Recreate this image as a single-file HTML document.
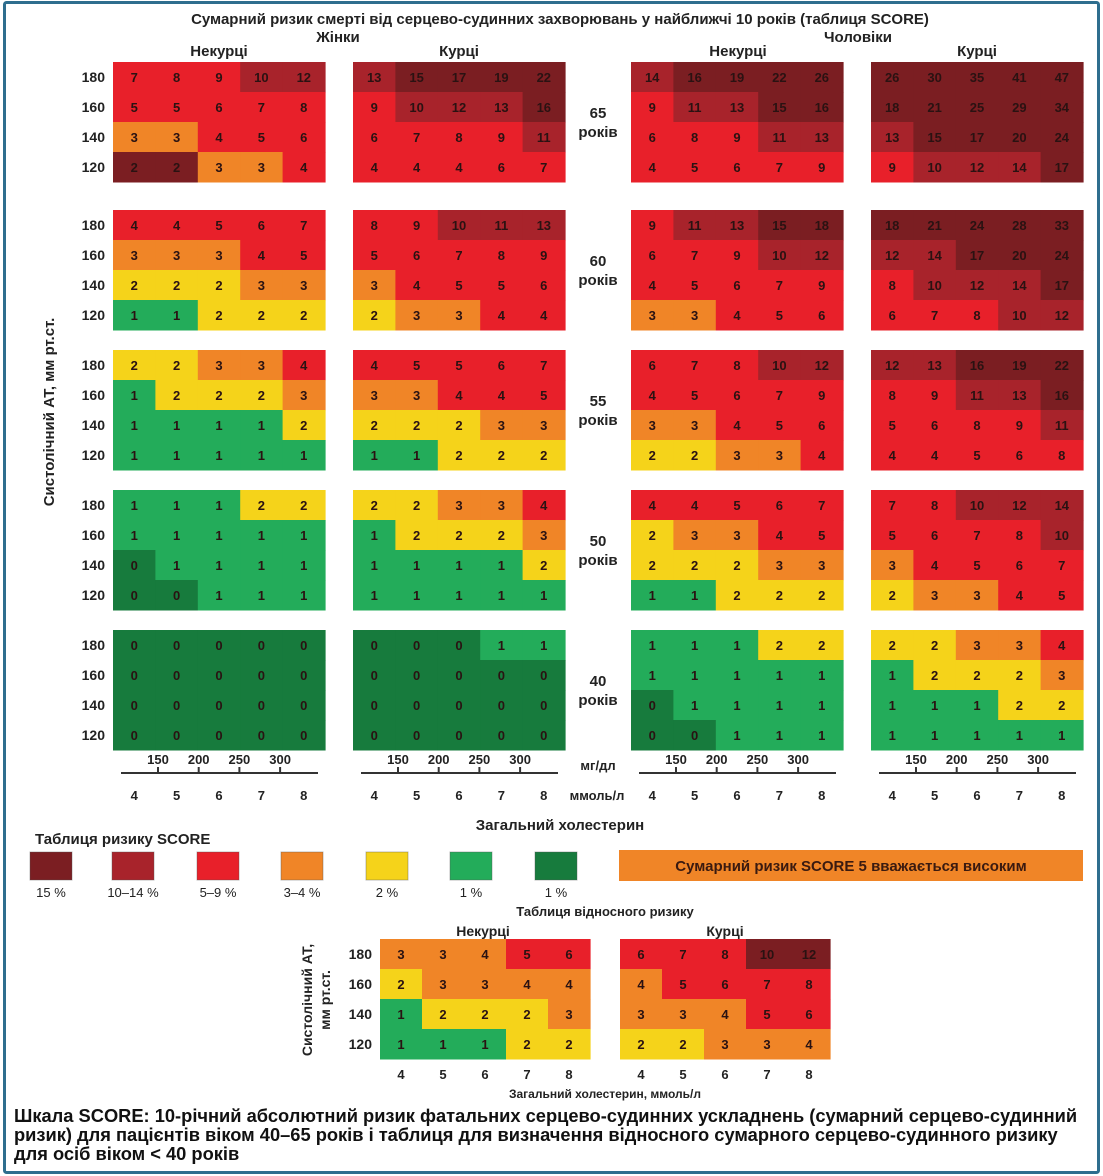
<!DOCTYPE html>
<html><head><meta charset="utf-8">
<style>
html,body{margin:0;padding:0;background:#fff;}
svg{display:block;font-family:"Liberation Sans",sans-serif;}
</style></head>
<body>
<svg id="chart" width="1103" height="1176" viewBox="0 0 1103 1176" xmlns="http://www.w3.org/2000/svg">
<rect x="4.5" y="2.5" width="1094" height="1170" fill="#fff" stroke="#2e6e8e" stroke-width="3" rx="2"/>
<g font-weight="bold" fill="#222">
<text x="560" y="24" text-anchor="middle" font-size="15">Сумарний ризик смерті від серцево-судинних захворювань у найближчі 10 років (таблиця SCORE)</text>
<text x="338" y="42" text-anchor="middle" font-size="15">Жінки</text>
<text x="858" y="42" text-anchor="middle" font-size="15">Чоловіки</text>
<text x="219" y="56" text-anchor="middle" font-size="15">Некурці</text>
<text x="459" y="56" text-anchor="middle" font-size="15">Курці</text>
<text x="738" y="56" text-anchor="middle" font-size="15">Некурці</text>
<text x="977" y="56" text-anchor="middle" font-size="15">Курці</text>
<text transform="translate(54,412) rotate(-90)" text-anchor="middle" font-size="15">Систолічний АТ, мм рт.ст.</text>
<text x="598" y="770" text-anchor="middle" font-size="13">мг/дл</text>
<text x="597" y="800" text-anchor="middle" font-size="13">ммоль/л</text>
<text x="560" y="830" text-anchor="middle" font-size="15">Загальний холестерин</text>
<text x="35" y="844" font-size="15">Таблиця ризику SCORE</text>
<rect x="619" y="850" width="464" height="31" fill="#f08527"/>
<text x="851" y="871" text-anchor="middle" font-size="15" fill="#3a1a10">Сумарний ризик SCORE 5 вважається високим</text>
<text x="605" y="916" text-anchor="middle" font-size="13">Таблиця відносного ризику</text>
<text x="483" y="936" text-anchor="middle" font-size="14">Некурці</text>
<text x="725" y="936" text-anchor="middle" font-size="14">Курці</text>
<text transform="translate(312,1000) rotate(-90)" text-anchor="middle" font-size="14">Систолічний АТ,</text>
<text transform="translate(330,1000) rotate(-90)" text-anchor="middle" font-size="14">мм рт.ст.</text>
<text x="605" y="1098" text-anchor="middle" font-size="12">Загальний холестерин, ммоль/л</text>
<text font-size="18.3" fill="#111">
<tspan x="14" y="1122">Шкала SCORE: 10-річний абсолютний ризик фатальних серцево-судинних ускладнень (сумарний серцево-судинний</tspan>
<tspan x="14" y="1141">ризик) для пацієнтів віком 40–65 років і таблиця для визначення відносного сумарного серцево-судинного ризику</tspan>
<tspan x="14" y="1160">для осіб віком &lt; 40 років</tspan>
</text>
</g>
<g id="cells"></g>
</svg>
<script>
const bpRows = ["180","160","140","120"];
const cholMmol = ["4","5","6","7","8"];
const cholMg = ["150","200","250","300"];
const ages = ["65","60","55","50","40"];
const groups = ["women-nonsmoker","women-smoker","men-nonsmoker","men-smoker"];
const legendLabels = ["15 %","10–14 %","5–9 %","3–4 %","2 %","1 %","1 %"];
const legendCodes = ["B","D","R","O","Y","G","K"];
const palette = {B:"#7b1e22",D:"#a8232b",R:"#e8202a",O:"#f08527",Y:"#f5d31a",G:"#23ac5a",K:"#177b3d"};

const wnValues = [
 [[7,8,9,10,12],[5,5,6,7,8],[3,3,4,5,6],[2,2,3,3,4]],
 [[4,4,5,6,7],[3,3,3,4,5],[2,2,2,3,3],[1,1,2,2,2]],
 [[2,2,3,3,4],[1,2,2,2,3],[1,1,1,1,2],[1,1,1,1,1]],
 [[1,1,1,2,2],[1,1,1,1,1],[0,1,1,1,1],[0,0,1,1,1]],
 [[0,0,0,0,0],[0,0,0,0,0],[0,0,0,0,0],[0,0,0,0,0]]];
const wnColors = [["RRRDD","RRRRR","OORRR","BBOOR"],["RRRRR","OOORR","YYYOO","GGYYY"],["YYOOR","GYYYO","GGGGY","GGGGG"],["GGGYY","GGGGG","KGGGG","KKGGG"],["KKKKK","KKKKK","KKKKK","KKKKK"]];
const wsValues = [
 [[13,15,17,19,22],[9,10,12,13,16],[6,7,8,9,11],[4,4,4,6,7]],
 [[8,9,10,11,13],[5,6,7,8,9],[3,4,5,5,6],[2,3,3,4,4]],
 [[4,5,5,6,7],[3,3,4,4,5],[2,2,2,3,3],[1,1,2,2,2]],
 [[2,2,3,3,4],[1,2,2,2,3],[1,1,1,1,2],[1,1,1,1,1]],
 [[0,0,0,1,1],[0,0,0,0,0],[0,0,0,0,0],[0,0,0,0,0]]];
const wsColors = [["DBBBB","RDDDB","RRRRD","RRRRR"],["RRDDD","RRRRR","ORRRR","YOORR"],["RRRRR","OORRR","YYYOO","GGYYY"],["YYOOR","GYYYO","GGGGY","GGGGG"],["KKKGG","KKKKK","KKKKK","KKKKK"]];
const mnValues = [
 [[14,16,19,22,26],[9,11,13,15,16],[6,8,9,11,13],[4,5,6,7,9]],
 [[9,11,13,15,18],[6,7,9,10,12],[4,5,6,7,9],[3,3,4,5,6]],
 [[6,7,8,10,12],[4,5,6,7,9],[3,3,4,5,6],[2,2,3,3,4]],
 [[4,4,5,6,7],[2,3,3,4,5],[2,2,2,3,3],[1,1,2,2,2]],
 [[1,1,1,2,2],[1,1,1,1,1],[0,1,1,1,1],[0,0,1,1,1]]];
const mnColors = [["DBBBB","RDDBB","RRRDD","RRRRR"],["RDDBB","RRRDD","RRRRR","OORRR"],["RRRDD","RRRRR","OORRR","YYOOR"],["RRRRR","YOORR","YYYOO","GGYYY"],["GGGYY","GGGGG","KGGGG","KKGGG"]];
const msValues = [
 [[26,30,35,41,47],[18,21,25,29,34],[13,15,17,20,24],[9,10,12,14,17]],
 [[18,21,24,28,33],[12,14,17,20,24],[8,10,12,14,17],[6,7,8,10,12]],
 [[12,13,16,19,22],[8,9,11,13,16],[5,6,8,9,11],[4,4,5,6,8]],
 [[7,8,10,12,14],[5,6,7,8,10],[3,4,5,6,7],[2,3,3,4,5]],
 [[2,2,3,3,4],[1,2,2,2,3],[1,1,1,2,2],[1,1,1,1,1]]];
const msColors = [["BBBBB","BBBBB","DBBBB","RDDDB"],["BBBBB","DDBBB","RDDDB","RRRDD"],["DDBBB","RRDDB","RRRRD","RRRRR"],["RRDDD","RRRRD","ORRRR","YOORR"],["YYOOR","GYYYO","GGGYY","GGGGG"]];
const relNonValues = [[3,3,4,5,6],[2,3,3,4,4],[1,2,2,2,3],[1,1,1,2,2]];
const relNonColors = ["OOORR","YOOOO","GYYYO","GGGYY"];
const relSmkValues = [[6,7,8,10,12],[4,5,6,7,8],[3,3,4,5,6],[2,2,3,3,4]];
const relSmkColors = ["RRRBB","ORRRR","OOORR","YYOOO"];

const NS="http://www.w3.org/2000/svg";
const root=document.getElementById('cells');
const panelX=[113,353,631,871];
const ageY=[62,210,350,490,630];
const CW=42.4, RH=30;
function yRow(py,r){return py+r*RH;}
function mk(tag,attrs){const e=document.createElementNS(NS,tag);for(const k in attrs)e.setAttribute(k,attrs[k]);return e;}
function txt(x,y,s,size,anchor,fill){const t=mk('text',{x:x,y:y,'font-size':size,'font-weight':'bold','text-anchor':anchor||'middle',fill:fill||'#222'});t.textContent=s;return t;}

function drawPanel(px,py,vals,cols,name,labels,cw){
  const g=mk('g',{});
  
  
  for(let r=0;r<vals.length;r++){
    for(let c=0;c<vals[r].length;c++){
      const rc=mk('rect',{x:px+c*cw,y:yRow(py,r),width:cw+0.6,height:RH+0.5,fill:palette[cols[r][c]]});
      
      
      g.appendChild(rc);
      const t=txt(px+c*cw+cw/2,yRow(py,r)+RH/2+5,String(vals[r][c]),13,'middle','#2a1212');
      
      
      g.appendChild(t);
    }
    if(labels){
      const l=txt(px-8,yRow(py,r)+RH/2+5,bpRows[r],14,'end','#222');
      
      
      g.appendChild(l);
    }
  }
  root.appendChild(g);
}
const allVals=[wnValues,wsValues,mnValues,msValues];
const allCols=[wnColors,wsColors,mnColors,msColors];
for(let gi=0;gi<4;gi++){
  for(let a=0;a<ages.length;a++){
    drawPanel(panelX[gi],ageY[a],allVals[gi][a],allCols[gi][a],groups[gi]+'-'+ages[a]+'-panel',gi===0,CW);
  }
  const px=panelX[gi];
  const ln=mk('line',{x1:px+8,x2:px+205,y1:773,y2:773,stroke:'#333','stroke-width':2});
  
  
  root.appendChild(ln);
  for(let i=0;i<cholMg.length;i++){
    const tx=px+45+i*40.7;
    const tk=mk('line',{x1:tx,x2:tx,y1:767,y2:773,stroke:'#333','stroke-width':2});
    
    
    root.appendChild(tk);
    const tl=txt(tx,764,cholMg[i],13,'middle','#222');
    
    
    root.appendChild(tl);
  }
  for(let c=0;c<cholMmol.length;c++){
    const ml=txt(px+c*CW+CW/2,800,cholMmol[c],13,'middle','#222');
    
    
    root.appendChild(ml);
  }
}
for(let a=0;a<ages.length;a++){
  const t1=txt(598,ageY[a]+56,ages[a],15,'middle','#222');
  
  
  root.appendChild(t1);
  const t2=txt(598,ageY[a]+75,'років',15,'middle','#222');
  
  
  root.appendChild(t2);
}
const legX=[30,112,197,281,366,450,535];
for(let i=0;i<legendCodes.length;i++){
  const r=mk('rect',{x:legX[i],y:852,width:42,height:28,fill:palette[legendCodes[i]],stroke:'#555','stroke-opacity':0.4});
  
  
  root.appendChild(r);
  const t=mk('text',{x:legX[i]+21,y:897,'font-size':13,'text-anchor':'middle',fill:'#222'});
  t.textContent=legendLabels[i];
  
  
  root.appendChild(t);
}
const relCW=42;
drawPanel(380,939,relNonValues,relNonColors,'relative-nonsmoker-panel',true,relCW);
drawPanel(620,939,relSmkValues,relSmkColors,'relative-smoker-panel',false,relCW);
[380,620].forEach(px=>{
  for(let c=0;c<cholMmol.length;c++){
    const t=txt(px+c*relCW+relCW/2,1079,cholMmol[c],13,'middle','#222');
    
    
    root.appendChild(t);
  }
});
</script>
</body></html>
